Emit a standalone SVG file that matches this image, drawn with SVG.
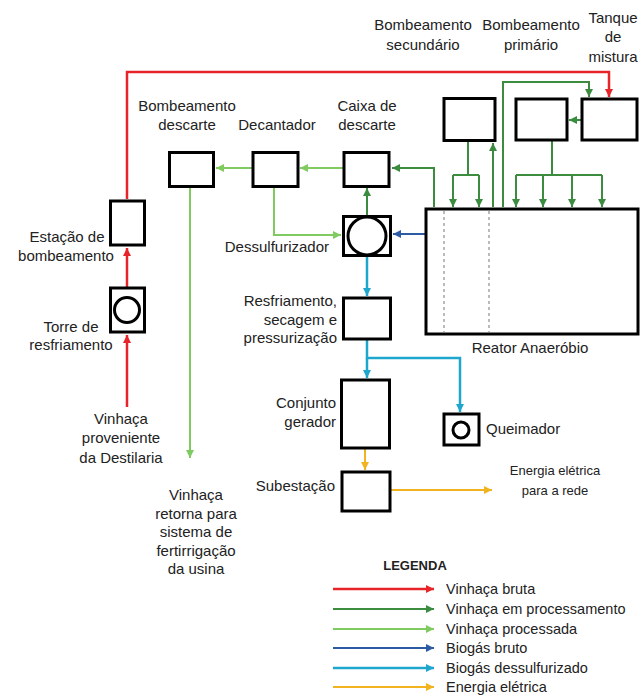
<svg xmlns="http://www.w3.org/2000/svg" width="644" height="695" viewBox="0 0 644 695">
  <style>
    text { font-family: "Liberation Sans", Arial, sans-serif; font-size: 15px; fill: #222; }
    .mid { text-anchor: middle; }
    .end { text-anchor: end; }
    .small { font-size: 13px; }
    .key { font-size: 14.5px; }
    .title { font-size: 13px; font-weight: bold; }
    .box { fill: #fff; stroke: #000; stroke-width: 3; }
    .ring { fill: none; stroke: #000; stroke-width: 3; }
    .dash { stroke: #777; stroke-width: 1; stroke-dasharray: 3 3; }
    .flow { fill: none; stroke-linejoin: miter; }
    .red { stroke: #e8242b; stroke-width: 2.5; }
    .dg { stroke: #3c8c40; stroke-width: 2; }
    .lg { stroke: #7fcb5f; stroke-width: 2; }
    .blue { stroke: #2d5ba3; stroke-width: 2; }
    .cyan { stroke: #1ea7cd; stroke-width: 2.5; }
    .orange { stroke: #f2b320; stroke-width: 2; }
  </style>
  <defs>
    <marker id="aRed" viewBox="0 0 8 8" refX="8" refY="4" markerWidth="8" markerHeight="8" markerUnits="userSpaceOnUse" orient="auto"><path d="M0,0 L8,4 L0,8 z" fill="#e8242b"/></marker>
    <marker id="aDg" viewBox="0 0 8 8" refX="8" refY="4" markerWidth="8" markerHeight="8" markerUnits="userSpaceOnUse" orient="auto"><path d="M0,0 L8,4 L0,8 z" fill="#3c8c40"/></marker>
    <marker id="aLg" viewBox="0 0 8 8" refX="8" refY="4" markerWidth="8" markerHeight="8" markerUnits="userSpaceOnUse" orient="auto"><path d="M0,0 L8,4 L0,8 z" fill="#7fcb5f"/></marker>
    <marker id="aBlue" viewBox="0 0 8 8" refX="8" refY="4" markerWidth="8" markerHeight="8" markerUnits="userSpaceOnUse" orient="auto"><path d="M0,0 L8,4 L0,8 z" fill="#2d5ba3"/></marker>
    <marker id="aCyan" viewBox="0 0 8 8" refX="8" refY="4" markerWidth="8" markerHeight="8" markerUnits="userSpaceOnUse" orient="auto"><path d="M0,0 L8,4 L0,8 z" fill="#1ea7cd"/></marker>
    <marker id="aOrange" viewBox="0 0 8 8" refX="8" refY="4" markerWidth="8" markerHeight="8" markerUnits="userSpaceOnUse" orient="auto"><path d="M0,0 L8,4 L0,8 z" fill="#f2b320"/></marker>
  </defs>
  <rect width="644" height="695" fill="#fff"/>

  <!-- flow lines -->
  <g id="connectors">
    <!-- raw vinasse -->
    <path class="flow red" d="M127,407 V335" marker-end="url(#aRed)"/>
    <path class="flow red" d="M127,287 V248" marker-end="url(#aRed)"/>
    <path class="flow red" d="M127,199 V72 H609 V97" marker-end="url(#aRed)"/>
    <!-- vinasse in process -->
    <path class="flow dg" d="M503,207 V82 H589 V97" marker-end="url(#aDg)"/>
    <path class="flow dg" d="M581,120 H569" marker-end="url(#aDg)"/>
    <path class="flow dg" d="M552,141 V175 M516,175 H602"/>
    <path class="flow dg" d="M516,175 V207" marker-end="url(#aDg)"/>
    <path class="flow dg" d="M543,175 V207" marker-end="url(#aDg)"/>
    <path class="flow dg" d="M572,175 V207" marker-end="url(#aDg)"/>
    <path class="flow dg" d="M602,175 V207" marker-end="url(#aDg)"/>
    <path class="flow dg" d="M468,141 V175 M453,175 H479"/>
    <path class="flow dg" d="M453,175 V207" marker-end="url(#aDg)"/>
    <path class="flow dg" d="M479,175 V207" marker-end="url(#aDg)"/>
    <path class="flow dg" d="M493,207 V143" marker-end="url(#aDg)"/>
    <path class="flow dg" d="M434,207 V168 H392" marker-end="url(#aDg)"/>
    <path class="flow dg" d="M367,215 V188" marker-end="url(#aDg)"/>
    <!-- processed vinasse -->
    <path class="flow lg" d="M343,168 H300" marker-end="url(#aLg)"/>
    <path class="flow lg" d="M252,168 H216" marker-end="url(#aLg)"/>
    <path class="flow lg" d="M274,187 V235 H341" marker-end="url(#aLg)"/>
    <path class="flow lg" d="M190,187 V458" marker-end="url(#aLg)"/>
    <!-- raw biogas -->
    <path class="flow blue" d="M425,234 H393" marker-end="url(#aBlue)"/>
    <!-- desulfurized biogas -->
    <path class="flow cyan" d="M367,256 V296" marker-end="url(#aCyan)"/>
    <path class="flow cyan" d="M367,340 V358 H460 V412" marker-end="url(#aCyan)"/>
    <path class="flow cyan" d="M367,358 V378" marker-end="url(#aCyan)"/>
    <!-- electric power -->
    <path class="flow orange" d="M365,449 V470" marker-end="url(#aOrange)"/>
    <path class="flow orange" d="M391,490 H492" marker-end="url(#aOrange)"/>
  </g>

  <!-- equipment -->
  <g id="estacao-bombeamento">
    <rect class="box" x="110.5" y="201" width="34" height="44"/>
    <text class="mid" x="67" y="242">Estação de</text>
    <text class="mid" x="66" y="261">bombeamento</text>
  </g>
  <g id="torre-resfriamento">
    <rect class="box" x="110.5" y="288" width="34" height="44"/>
    <circle class="ring" cx="127" cy="310" r="12.5" stroke-width="2.5"/>
    <text class="mid" x="71" y="332">Torre de</text>
    <text class="mid" x="71" y="350">resfriamento</text>
  </g>
  <g id="bombeamento-descarte">
    <rect class="box" x="169.5" y="152.5" width="44" height="34"/>
    <text class="mid" x="187" y="111">Bombeamento</text>
    <text class="mid" x="187" y="130">descarte</text>
  </g>
  <g id="decantador">
    <rect class="box" x="253" y="152.5" width="45" height="34"/>
    <text class="mid" x="277" y="130">Decantador</text>
  </g>
  <g id="caixa-descarte">
    <rect class="box" x="344" y="152.5" width="45" height="34"/>
    <text class="mid" x="367" y="111">Caixa de</text>
    <text class="mid" x="367" y="130">descarte</text>
  </g>
  <g id="dessulfurizador">
    <rect class="box" x="343.5" y="216.5" width="47" height="39"/>
    <circle class="ring" cx="367" cy="236" r="19"/>
    <text class="end" x="329" y="252">Dessulfurizador</text>
  </g>
  <g id="resfriamento">
    <rect class="box" x="343.5" y="298" width="47" height="41"/>
    <text class="end" x="337" y="306">Resfriamento,</text>
    <text class="end" x="337" y="324.5">secagem e</text>
    <text class="end" x="337" y="343">pressurização</text>
  </g>
  <g id="conjunto-gerador">
    <rect class="box" x="341.5" y="380" width="48" height="68"/>
    <text class="end" x="336" y="408">Conjunto</text>
    <text class="end" x="336" y="427">gerador</text>
  </g>
  <g id="subestacao">
    <rect class="box" x="342" y="472" width="48" height="39"/>
    <text class="end" x="335" y="491">Subestação</text>
  </g>
  <g id="queimador">
    <rect class="box" x="444" y="414" width="35" height="31"/>
    <circle class="ring" cx="461" cy="430" r="8" stroke-width="2.5"/>
    <text x="486" y="434">Queimador</text>
  </g>
  <g id="reator">
    <rect class="box" x="426" y="209" width="212" height="125"/>
    <line class="dash" x1="444" y1="211" x2="444" y2="332"/>
    <line class="dash" x1="489" y1="211" x2="489" y2="332"/>
    <text class="mid" x="530" y="353">Reator Anaeróbio</text>
  </g>
  <g id="bombeamento-secundario">
    <rect class="box" x="444" y="98.5" width="51" height="42"/>
    <text class="mid" x="423" y="30">Bombeamento</text>
    <text class="mid" x="423" y="50">secundário</text>
  </g>
  <g id="bombeamento-primario">
    <rect class="box" x="516" y="99" width="51" height="41"/>
    <text class="mid" x="531" y="30">Bombeamento</text>
    <text class="mid" x="531" y="50">primário</text>
  </g>
  <g id="tanque-mistura">
    <rect class="box" x="582" y="99" width="55" height="41"/>
    <text class="mid" x="613" y="23">Tanque</text>
    <text class="mid" x="613" y="42">de</text>
    <text class="mid" x="613" y="62">mistura</text>
  </g>

  <!-- free labels -->
  <g id="labels">
    <text class="mid" x="121" y="424">Vinhaça</text>
    <text class="mid" x="121" y="443">proveniente</text>
    <text class="mid" x="121" y="463">da Destilaria</text>
    <text class="mid" x="196" y="500">Vinhaça</text>
    <text class="mid" x="196" y="518.5">retorna para</text>
    <text class="mid" x="196" y="537">sistema de</text>
    <text class="mid" x="196" y="555.5">fertirrigação</text>
    <text class="mid" x="196" y="574">da usina</text>
    <text class="mid small" x="555" y="475">Energia elétrica</text>
    <text class="mid small" x="555" y="495">para a rede</text>
  </g>

  <!-- legend -->
  <g id="legenda">
    <text class="mid title" x="415" y="570">LEGENDA</text>
    <line class="red" x1="333" y1="589" x2="434" y2="589" marker-end="url(#aRed)"/>
    <line class="dg" x1="333" y1="609" x2="434" y2="609" marker-end="url(#aDg)"/>
    <line class="lg" x1="333" y1="629" x2="434" y2="629" marker-end="url(#aLg)"/>
    <line class="blue" x1="333" y1="648" x2="434" y2="648" marker-end="url(#aBlue)"/>
    <line class="cyan" x1="333" y1="668" x2="434" y2="668" marker-end="url(#aCyan)"/>
    <line class="orange" x1="333" y1="687" x2="434" y2="687" marker-end="url(#aOrange)"/>
    <text class="key" x="446" y="594">Vinhaça bruta</text>
    <text class="key" x="446" y="614">Vinhaça em processamento</text>
    <text class="key" x="446" y="634">Vinhaça processada</text>
    <text class="key" x="446" y="653">Biogás bruto</text>
    <text class="key" x="446" y="673">Biogás dessulfurizado</text>
    <text class="key" x="446" y="692">Energia elétrica</text>
  </g>
</svg>
